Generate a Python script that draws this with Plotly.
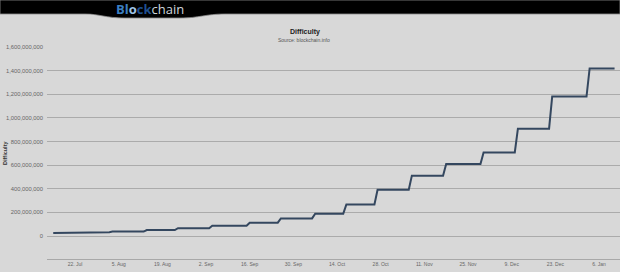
import plotly.graph_objects as go

# ---- data ----
period_start = ["2013-07-15", "2013-07-22", "2013-08-03", "2013-08-14", "2013-08-24",
                "2013-09-04", "2013-09-16", "2013-09-26", "2013-10-07", "2013-10-17",
                "2013-10-27", "2013-11-07", "2013-11-18", "2013-11-30", "2013-12-11",
                "2013-12-22", "2014-01-03"]
period_end = ["2013-07-21", "2013-08-02", "2013-08-13", "2013-08-23", "2013-09-03",
              "2013-09-15", "2013-09-25", "2013-10-06", "2013-10-16", "2013-10-26",
              "2013-11-06", "2013-11-17", "2013-11-29", "2013-12-10", "2013-12-21",
              "2014-01-02", "2014-01-11"]
difficulty = [26162876, 31256961, 37392766, 50810339, 65750060, 86933018, 112628548,
              148819200, 189281249, 267731249, 390928788, 510929738, 609482680,
              707408283, 908350862, 1180923195, 1418481395]

x_tick_dates = ["2013-07-22", "2013-08-05", "2013-08-19", "2013-09-02", "2013-09-16",
                "2013-09-30", "2013-10-14", "2013-10-28", "2013-11-11", "2013-11-25",
                "2013-12-09", "2013-12-23", "2014-01-06"]
x_tick_labels = ["22. Jul", "5. Aug", "19. Aug", "2. Sep", "16. Sep", "30. Sep", "14. Oct",
                 "28. Oct", "11. Nov", "25. Nov", "9. Dec", "23. Dec", "6. Jan"]
y_tick_values = [0, 200000000, 400000000, 600000000, 800000000, 1000000000,
                 1200000000, 1400000000, 1600000000]

# each difficulty level holds from its start day to its end day
xs, ys = [], []
for s, e, d in zip(period_start, period_end, difficulty):
    xs += [s, e]
    ys += [d, d]

W, H = 620, 272
L, R, T, B = 47, 0, 47, 13
pw, ph = W - L - R, H - T - B


def px(x):
    return (x - L) / pw


def py(y):
    return (H - B - y) / ph


FONT = "Liberation Sans, Arial, sans-serif"

fig = go.Figure()
fig.add_trace(go.Scatter(x=xs, y=ys, mode="lines",
                         line=dict(color="#34475f", width=2), hoverinfo="skip"))

# header band with bulge under logo
path = (f"M {px(0)},{py(0)} L {px(620)},{py(0)} L {px(620)},{py(14)} "
        f"L {px(225)},{py(14)} C {px(205)},{py(14)} {px(200)},{py(18)} {px(180)},{py(18)} "
        f"L {px(125)},{py(18)} C {px(105)},{py(18)} {px(100)},{py(14)} {px(85)},{py(14)} "
        f"L {px(0)},{py(14)} Z")
shapes = [
    dict(type="path", xref="paper", yref="paper", path=path,
         fillcolor="#000000", line=dict(color="#8a8a8a", width=0.8), layer="above"),
]

annotations = [
    dict(text='<span style="color:#3b7fc2"><b>Bl</b></span><span style="color:#9fc3e6"><b>o</b></span>'
              '<span style="color:#1f4f8f"><b>ck</b></span><span style="color:#cfd6dd">chain</span>',
         x=px(150), y=py(8.5), xref="paper", yref="paper", showarrow=False,
         font=dict(family="Open Sans, sans-serif", size=13), xanchor="center", yanchor="middle"),
    dict(text="<b>Difficulty</b>", x=px(305), y=py(32), xref="paper", yref="paper",
         showarrow=False, font=dict(family=FONT, size=7, color="#222222"),
         xanchor="center", yanchor="middle"),
    dict(text="Source: blockchain.info", x=px(304), y=py(40), xref="paper", yref="paper",
         showarrow=False, font=dict(family=FONT, size=5, color="#555555"),
         xanchor="center", yanchor="middle"),
    dict(text="<b>Difficulty</b>", x=px(5), y=py(153), xref="paper", yref="paper",
         showarrow=False, textangle=-90, font=dict(family=FONT, size=5.5, color="#333333"),
         xanchor="center", yanchor="middle"),
]

fig.update_layout(
    width=W, height=H,
    margin=dict(l=L, r=R, t=T, b=B, pad=0),
    paper_bgcolor="#d8d8d8", plot_bgcolor="#d8d8d8",
    showlegend=False,
    shapes=shapes, annotations=annotations,
    xaxis=dict(type="date", range=["2013-07-13 00:05", "2014-01-12 17:45"],
               tickvals=x_tick_dates, ticktext=x_tick_labels,
               showgrid=False, zeroline=False, showline=True, linecolor="#a8a8a8", linewidth=1,
               ticks="", tickfont=dict(family=FONT, size=5, color="#666666")),
    yaxis=dict(range=[-194700000, 1600000000], tickvals=y_tick_values, tickformat=",d",
               showgrid=True, gridcolor="#ababab", gridwidth=1, zeroline=False,
               showline=False, ticks="", ticklabelstandoff=3,
               tickfont=dict(family=FONT, size=5.8, color="#666666")),
)

fig.write_html("out.html")
